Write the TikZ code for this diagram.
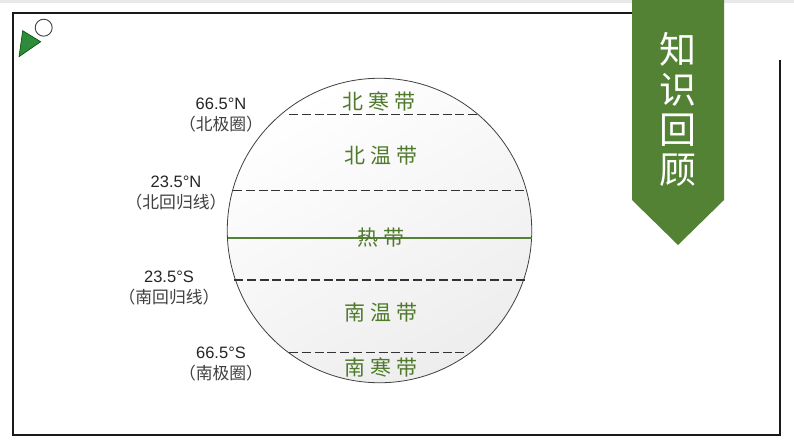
\documentclass[tikz,border=0pt]{standalone}
\usepackage{fontspec}
\setmainfont{Liberation Sans}
\newfontfamily\cjk{Noto Sans CJK SC}
\usetikzlibrary{shadings}
\definecolor{ribbon}{HTML}{548235}
\definecolor{tri}{HTML}{2E8B3A}
\definecolor{zone}{HTML}{4F7A2C}
\tikzset{
  frameline/.style={line width=1.6pt,draw=black!90},
  lat/.style={draw=black!80,line width=1.1pt,dash pattern=on 9pt off 3.8pt},
  zonelabel/.style={font=\cjk\fontsize{21}{21}\selectfont,text=zone,inner sep=0pt},
  latlabel/.style={align=center,inner sep=0pt,font=\fontsize{16.5}{21}\selectfont,text=black!85},
}
\newcommand{\sm}[1]{{\cjk\fontsize{16.8}{21}\selectfont\color{black!75} #1}}
\begin{document}
\begin{tikzpicture}[x=1pt,y=-1pt]
\useasboundingbox (0,0) rectangle (794,447);
\fill[white] (0,0) rectangle (794,447);
\fill[black!9] (0,0) rectangle (794,2.5);
% frame
\coordinate (ftr) at (632,13);
\coordinate (ftl) at (13,13);
\coordinate (fbl) at (13,435);
\coordinate (fbr) at (780,435);
\coordinate (frt) at (780,60);
\draw[frameline] (ftr) -- (ftl) -- (fbl) -- (fbr) -- (frt);
% ribbon
\fill[ribbon] (632,0) -- (724,0) -- (724,200) -- (678,245) -- (632,200) -- cycle;
\node[font=\cjk\fontsize{37}{40}\selectfont,text=white,align=center,inner sep=0pt] (title) at (678,109.5) {知\\识\\回\\顾};
% mark
\fill[tri,draw=black!70!green,line width=0.6pt] (22.7,30.7) -- (40.7,41.7) -- (19,56.7) -- cycle;
\node[circle,draw=black!75,fill=white,line width=0.9pt,minimum size=17pt,inner sep=0pt] (dot) at (43.7,27.7) {};
% globe
\node[circle,draw=black!75,line width=0.8pt,minimum size=304.5pt,inner sep=0pt,
      top color=white,bottom color=black!7,shading angle=30] (globe) at (379.5,230.5) {};
% latitude lines
\coordinate (n66a) at (289,114.5); \coordinate (n66b) at (478,114.5);
\coordinate (n23a) at (233,190.5); \coordinate (n23b) at (527,190.5);
\coordinate (s23a) at (234,280);   \coordinate (s23b) at (526,280);
\coordinate (s66a) at (289,352.5); \coordinate (s66b) at (468,352.5);
\coordinate (eqa) at (227.5,238);  \coordinate (eqb) at (531.5,238);
\draw[lat] (n66a) -- (n66b);
\draw[lat] (n23a) -- (n23b);
\draw[lat] (s23a) -- (s23b);
\draw[lat] (s66a) -- (s66b);
\draw[ribbon,line width=1.4pt] (eqa) -- (eqb);
% zones
\node[zonelabel] (z1) at (379,101) {北\hspace{5pt}寒\hspace{5pt}带};
\node[zonelabel] (z2) at (381,156) {北\hspace{5pt}温\hspace{5pt}带};
\node[zonelabel] (z3) at (381,238) {热\hspace{5pt}带};
\node[zonelabel] (z4) at (381,313) {南\hspace{5pt}温\hspace{5pt}带};
\node[zonelabel] (z5) at (381,367) {南\hspace{5pt}寒\hspace{5pt}带};
% latitude labels
\node[latlabel] (l1) at (221,115) {66.5°N\\\sm{（北极圈）}};
\node[latlabel] (l2) at (176,193.5) {23.5°N\\\sm{（北回归线）}};
\node[latlabel] (l3) at (169,288.5) {23.5°S\\\sm{（南回归线）}};
\node[latlabel] (l4) at (221,364.5) {66.5°S\\\sm{（南极圈）}};
\end{tikzpicture}
\end{document}
